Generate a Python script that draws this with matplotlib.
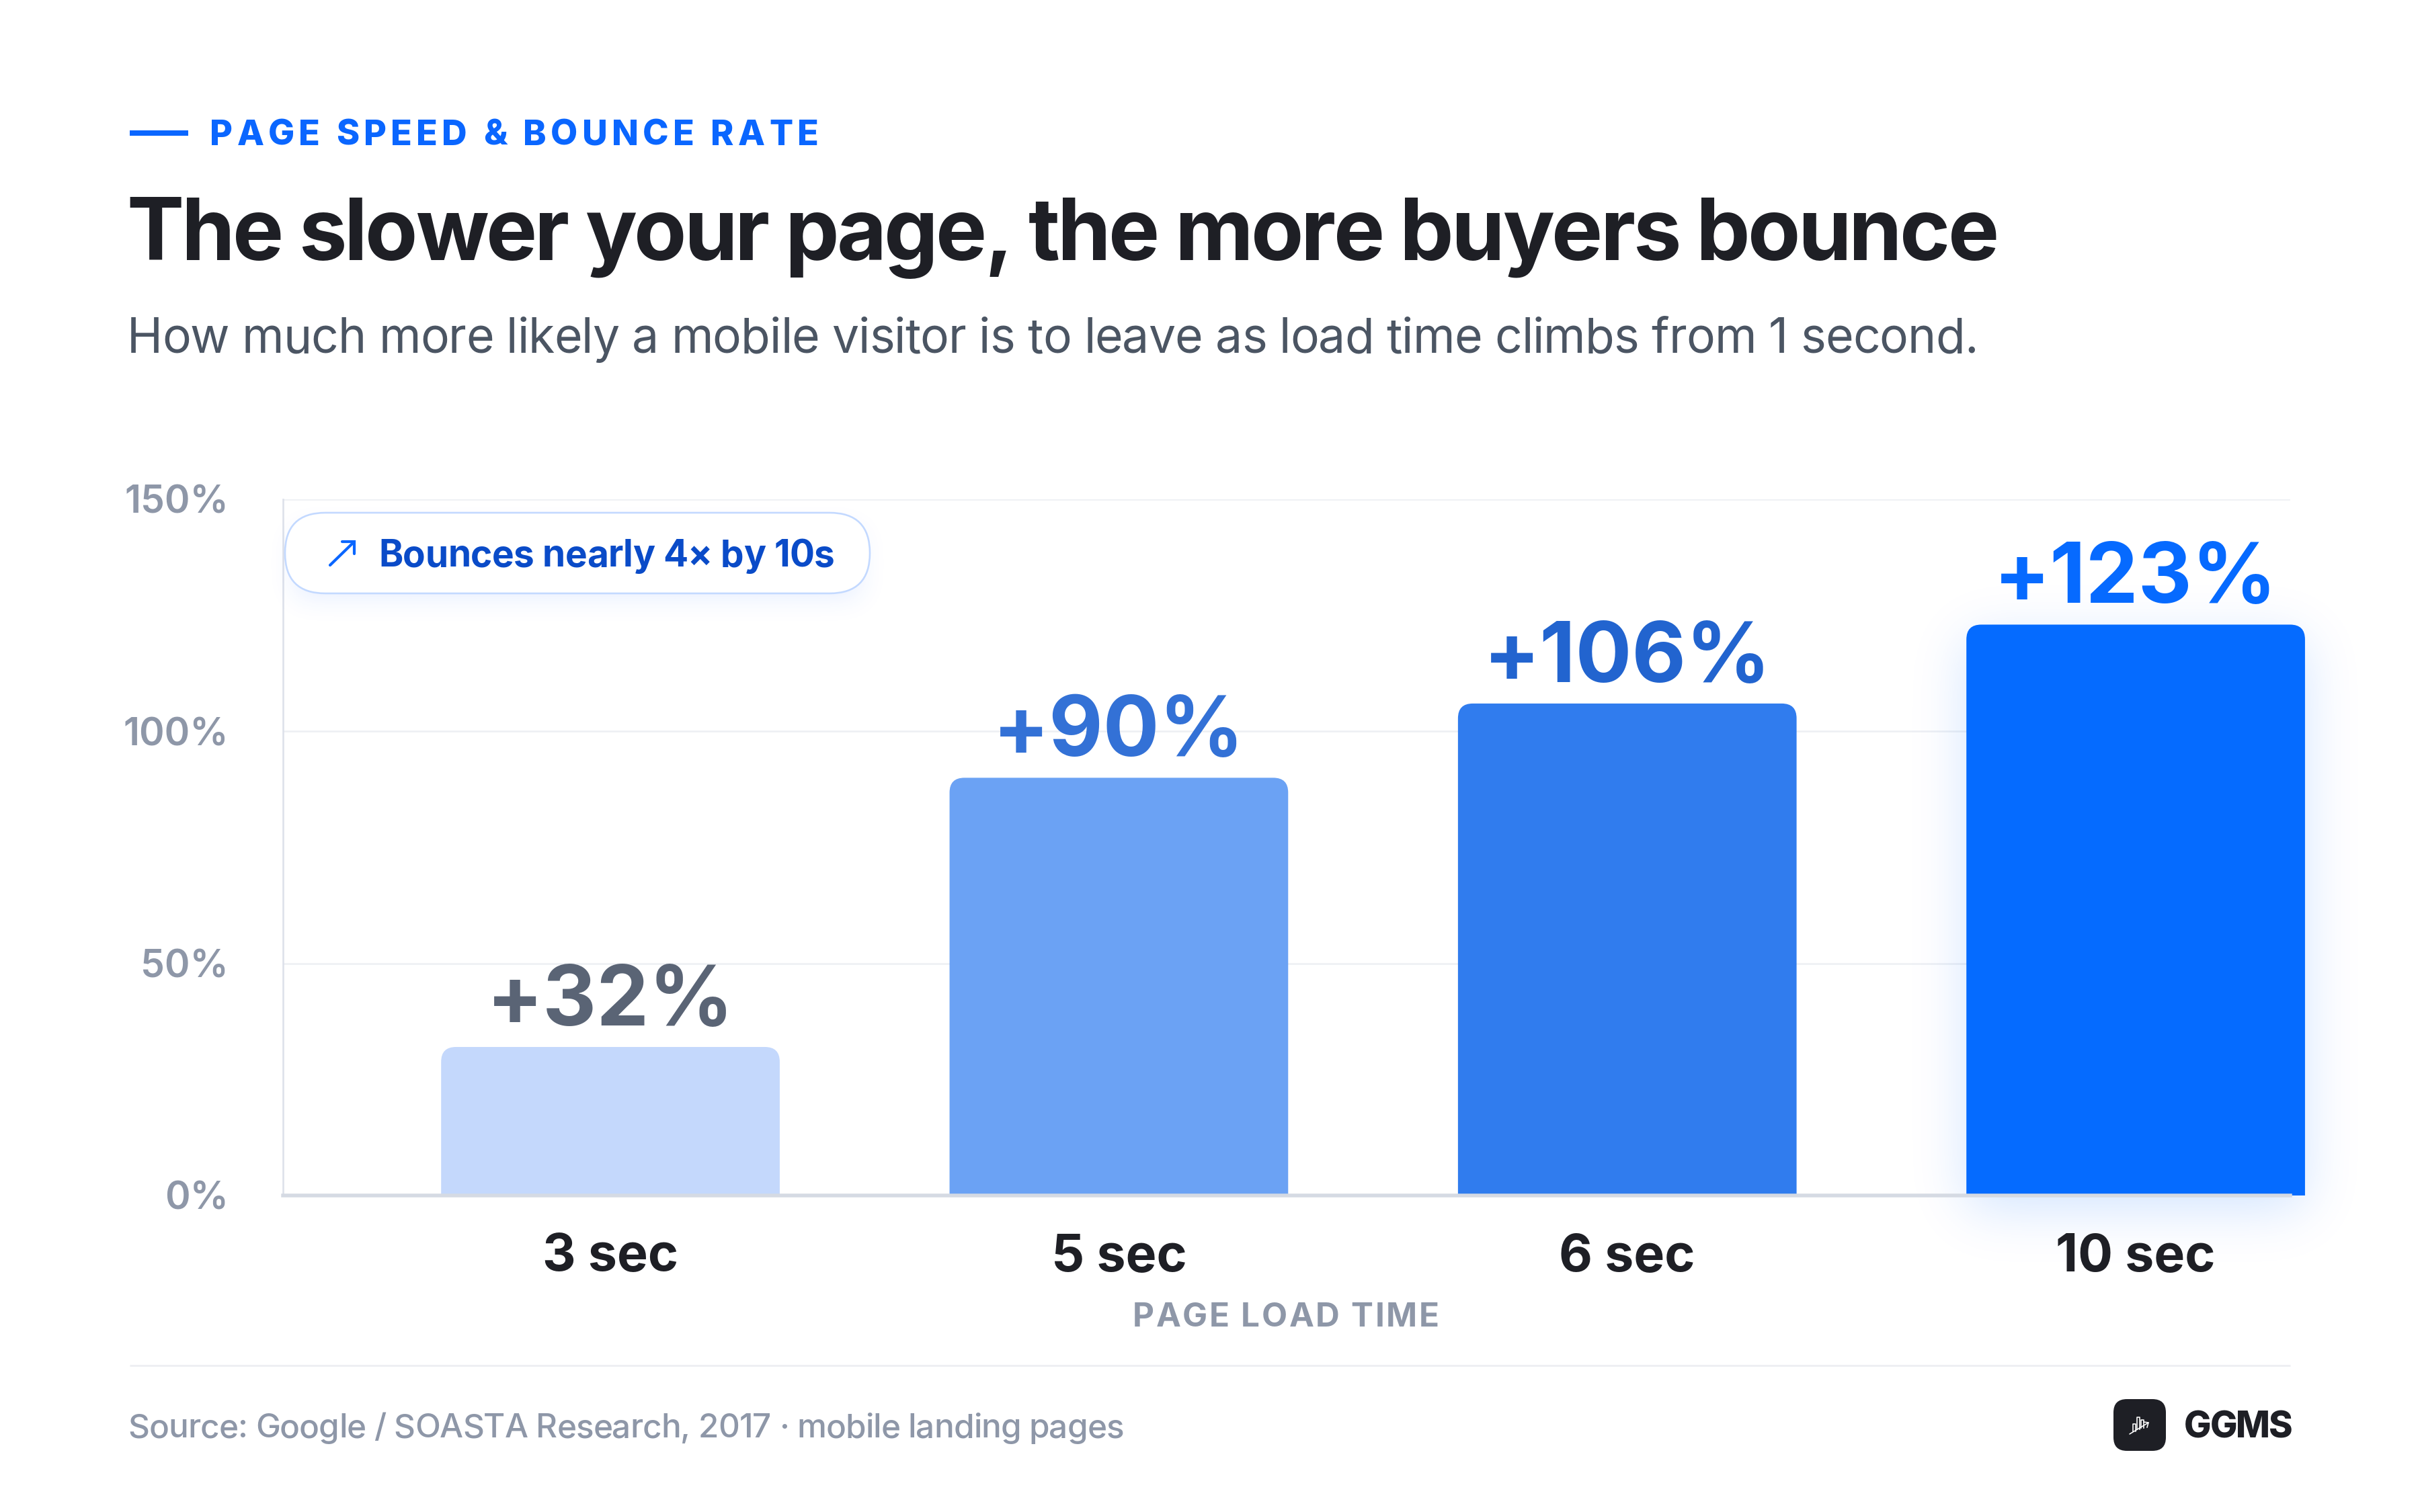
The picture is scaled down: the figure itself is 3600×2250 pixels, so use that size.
import math
import numpy as np
import matplotlib
matplotlib.use("Agg")
import matplotlib.pyplot as plt
from matplotlib.patches import FancyBboxPatch
from matplotlib.font_manager import FontProperties, findfont, get_font
from matplotlib import ft2font
import matplotlib.transforms as mtransforms

# ---------------- data ----------------
categories = ["3 sec", "5 sec", "6 sec", "10 sec"]
bounce_increase = [32, 90, 106, 123]
value_labels = ["+32%", "+90%", "+106%", "+123%"]
y_ticks = [0, 50, 100, 150]
y_tick_labels = ["0%", "50%", "100%", "150%"]
bar_colors = ["#C4D8FC", "#6BA2F4", "#307CEE", "#056BFF"]
label_colors = ["#5A6475", "#3371D6", "#2264CF", "#066AFF"]

kicker = "PAGE SPEED & BOUNCE RATE"
title = "The slower your page, the more buyers bounce"
subtitle = "How much more likely a mobile visitor is to leave as load time climbs from 1 second."
badge_text = "Bounces nearly 4\u00d7 by 10s"
x_title = "PAGE LOAD TIME"
source = "Source: Google / SOASTA Research, 2017 \u00b7 mobile landing pages"
brand = "GGMS"

# ---------------- setup ----------------
W, H, DPI = 3600, 2250, 200
PT = 72.0 / DPI  # px -> pt

try:
    LFLAGS = ft2font.LoadFlags.NO_HINTING
except AttributeError:
    LFLAGS = ft2font.LOAD_NO_HINTING
try:
    KMODE = ft2font.Kerning.DEFAULT
except AttributeError:
    KMODE = ft2font.KERNING_DEFAULT


def fp(px_em, weight="normal", family="Inter"):
    return FontProperties(family=family, weight=weight, size=px_em * PT)


fig = plt.figure(figsize=(W / DPI, H / DPI), dpi=DPI, facecolor="white")

AX_L, AX_R, AX_T, AX_B = 421, 3407, 743, 1779
ax = fig.add_axes([AX_L / W, 1 - AX_B / H, (AX_R - AX_L) / W, (AX_B - AX_T) / H])
ax.set_facecolor("white")
xpos = np.arange(len(categories))
XMIN, XMAX = -0.644, 3.304
BAR_W = 0.666
YMAX = 150
ax.set_xlim(XMIN, XMAX)
ax.set_ylim(0, YMAX)

for s in ["top", "right"]:
    ax.spines[s].set_visible(False)
ax.spines["left"].set_color("#DDE1EA")
ax.spines["left"].set_linewidth(2.6 * PT)
ax.spines["bottom"].set_color("#D5DAE3")
ax.spines["bottom"].set_linewidth(5.5 * PT)
ax.spines["bottom"].set_zorder(4)
ax.set_yticks(y_ticks)
ax.set_xticks(xpos)
ax.tick_params(length=0, labelbottom=False, labelleft=False)
ax.yaxis.grid(True, color="#EEF0F4", linewidth=2.7 * PT)
ax.set_axisbelow(True)

px_x = (AX_R - AX_L) / (XMAX - XMIN)
px_y = (AX_B - AX_T) / YMAX
R_PX = 22
rs = R_PX / px_x
ma = px_x / px_y

erf = np.vectorize(math.erf)


def blur_rect(xs, ys, x0, x1, y0, y1, sigma):
    s = sigma * math.sqrt(2)
    gx = 0.5 * (erf((xs - x0) / s) - erf((xs - x1) / s))
    gy = 0.5 * (erf((ys - y0) / s) - erf((ys - y1) / s))
    return np.outer(gy, gx)


# clip region: above the baseline, but allowed to extend past the right edge
bar_clip = mtransforms.TransformedBbox(
    mtransforms.Bbox([[XMIN - 1, 0], [XMAX + 1, YMAX * 2]]), ax.transData)

bars = ax.bar(xpos, bounce_increase, width=BAR_W, color=bar_colors, zorder=3)
for i, b in enumerate(bars):
    x0, w, h = b.get_x(), b.get_width(), b.get_height()
    b.set_visible(False)
    patch = FancyBboxPatch((x0, -15), w, h + 15,
                           boxstyle=f"round,pad=0,rounding_size={rs}",
                           mutation_aspect=ma, fc=bar_colors[i], ec="none",
                           zorder=3)
    ax.add_patch(patch)
    patch.set_clip_box(bar_clip)
    if i == len(bars) - 1:
        # soft glow behind the highlighted bar
        (dl, db) = ax.transData.transform((x0, 0))
        (dr, dt) = ax.transData.transform((x0 + w, h))
        sig, off = 40, 20
        pad = 4 * sig
        gxs = np.arange(dl - pad, dr + pad, 3.0)
        gys = np.arange(db - pad - off, dt + pad, 3.0)
        a = blur_rect(gxs, gys, dl, dr, db - off, dt - off, sig) * 0.18
        rgba = np.zeros((len(gys), len(gxs), 4))
        rgba[..., 0] = 5 / 255
        rgba[..., 1] = 107 / 255
        rgba[..., 2] = 1.0
        rgba[..., 3] = a
        inv = ax.transData.inverted()
        ex0, ey0 = inv.transform((gxs[0], gys[0]))
        ex1, ey1 = inv.transform((gxs[-1], gys[-1]))
        ax.imshow(rgba, extent=(ex0, ex1, ey0, ey1), origin="lower",
                  aspect="auto", zorder=1, clip_on=False, interpolation="bilinear")
ax.set_xlim(XMIN, XMAX)
ax.set_ylim(0, YMAX)

# value labels
lab_tr = mtransforms.offset_copy(ax.transData, fig=fig, y=32 * PT, units="points")
for xv, v, lab, c in zip(xpos, bounce_increase, value_labels, label_colors):
    ax.text(xv, v, lab, transform=lab_tr, ha="center", va="baseline",
            fontproperties=fp(124, "bold"), color=c, zorder=5, clip_on=False)

# y tick labels
ytr = mtransforms.offset_copy(ax.get_yaxis_transform(), fig=fig, y=-21 * PT, units="points")
for v, lab in zip(y_ticks, y_tick_labels):
    ax.text((340 - AX_L) / (AX_R - AX_L), v, lab, transform=ytr, ha="right",
            va="baseline", fontproperties=fp(57, "semibold"), color="#8E97A8")

# x category labels
xl_y = (AX_B - 1891) / (AX_B - AX_T)
for xv, cat in zip(xpos, categories):
    ax.text(xv, xl_y, cat, transform=ax.get_xaxis_transform(), ha="center",
            va="baseline", fontproperties=fp(77, "bold"), color="#1E1F25",
            clip_on=False)

# ---------------- overlay in pixel coords ----------------
ov = fig.add_axes([0, 0, 1, 1], zorder=5)
ov.set_facecolor("none")
ov.axis("off")


def set_ov_lims():
    ov.set_xlim(0, W)
    ov.set_ylim(H, 0)


set_ov_lims()


def glyph_layout(s, prop):
    font = get_font(findfont(prop))
    font.set_size(prop.get_size_in_points(), DPI)
    pens, mets = [], []
    x, prev = 0.0, None
    for c in s:
        idx = font.get_char_index(ord(c))
        if prev is not None:
            x += font.get_kerning(prev, idx, KMODE) / 64.0
        g = font.load_char(ord(c), flags=LFLAGS)
        pens.append(x)
        mets.append((g.horiBearingX / 64.0, g.width / 64.0))
        x += g.linearHoriAdvance / 65536.0
        prev = idx
    return pens, mets


def tracked(s, prop, color, baseline, x_left=None, x_center=None,
            target_w=None, track=0.0):
    pens, mets = glyph_layout(s, prop)
    ink_l = pens[0] + mets[0][0]
    ink_r = pens[-1] + mets[-1][0] + mets[-1][1]
    nat = ink_r - ink_l
    n = len(s)
    if target_w is not None and n > 1:
        track = (target_w - nat) / (n - 1)
    total = nat + track * (n - 1)
    if x_center is not None:
        x_left = x_center - total / 2
    x0 = x_left - ink_l
    for i, c in enumerate(s):
        if c == " ":
            continue
        ov.text(x0 + pens[i] + i * track, baseline, c, fontproperties=prop,
                color=color, ha="left", va="baseline")


# kicker
ov.plot([193, 280], [198, 198], color="#0A66FF", lw=8 * PT, solid_capstyle="butt")
tracked(kicker, fp(52, "heavy"), "#0A66FF", 216, x_left=315, target_w=900)
# title
tracked(title, fp(128, "bold"), "#1E1F25", 387, x_left=193, target_w=2776)
# subtitle
tracked(subtitle, fp(71.5, "normal"), "#4B5563", 525, x_left=195, target_w=2742)

# badge glow + pill
sig, off = 20, 16
gxs = np.arange(424 - 80, 1294 + 80, 2.0)
gys = np.arange(763 - 60, 883 + 100, 2.0)
a = blur_rect(gxs, gys, 440, 1278, 775 + off, 871 + off, sig) * 0.13
rgba = np.zeros((len(gys), len(gxs), 4))
rgba[..., 0] = 40 / 255
rgba[..., 1] = 110 / 255
rgba[..., 2] = 1.0
rgba[..., 3] = a
ov.imshow(rgba, extent=(gxs[0], gxs[-1], gys[-1], gys[0]), origin="upper",
          aspect="auto", interpolation="bilinear", zorder=1)
set_ov_lims()
pill = FancyBboxPatch((424, 763), 870, 120, boxstyle="round,pad=0,rounding_size=60",
                      fc="white", ec="#C3D9FF", lw=2.6 * PT, zorder=2)
ov.add_patch(pill)
ov.plot([491, 526], [841, 807], color="#0A66FF", lw=4.2 * PT, solid_capstyle="round", zorder=3)
ov.plot([509, 527, 527], [806, 806, 824], color="#0A66FF", lw=4.2 * PT,
        solid_capstyle="round", solid_joinstyle="miter", zorder=3)
tracked(badge_text, fp(55, "bold"), "#0A4BC8", 843, x_left=567, target_w=673)

# x-axis title
tracked(x_title, fp(49.5, "bold"), "#8E97A8", 1974, x_center=1913, target_w=450)

# footer
ov.plot([193, 3407], [2032, 2032], color="#EEEFF3", lw=3 * PT, solid_capstyle="butt")
tracked(source, fp(49.5, "medium"), "#8E97A8", 2139, x_left=193, target_w=1477)

# logo
logo = FancyBboxPatch((3144, 2082), 78, 77, boxstyle="round,pad=0,rounding_size=20",
                      fc="#1E1F25", ec="none", zorder=2)
ov.add_patch(logo)
wlw = 1.6 * PT
for (bx0, by0, by1) in [(3173, 2119, 2130), (3179, 2109, 2127), (3185, 2113, 2125)]:
    ov.plot([bx0, bx0, bx0 + 4, bx0 + 4], [by1, by0, by0, by1], color="white", lw=wlw, zorder=3)
ov.plot([3168, 3196], [2134, 2117], color="white", lw=wlw, zorder=3, solid_capstyle="round")
ov.plot([3189, 3196, 3194], [2116, 2117, 2124], color="white", lw=wlw, zorder=3)
tracked(brand, fp(54, "heavy"), "#1E1F25", 2139, x_left=3251, target_w=158)

fig.savefig("out.png", dpi=DPI, facecolor="white")
